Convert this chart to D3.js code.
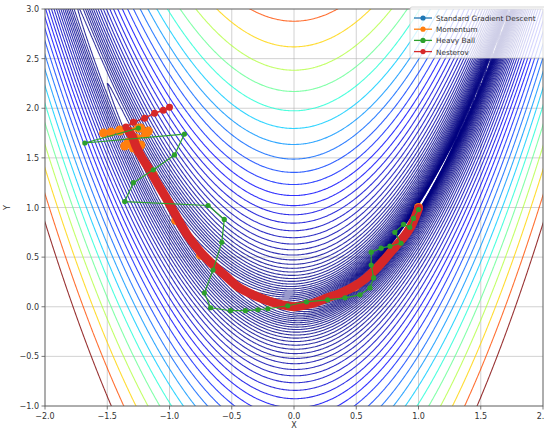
<!DOCTYPE html>
<html>
<head>
<meta charset="utf-8">
<script src="https://cdn.jsdelivr.net/npm/d3@7/dist/d3.min.js"></script>
<style>
  body { margin: 0; background: #fff; }
  svg text { font-family: "DejaVu Sans", sans-serif; }
</style>
</head>
<body>
<svg id="chart" width="544" height="432"></svg>
<script>
// ---- data ----
let xTicks = [-2.0, -1.5, -1.0, -0.5, 0.0, 0.5, 1.0, 1.5, 2.0];
let yTicks = [-1.0, -0.5, 0.0, 0.5, 1.0, 1.5, 2.0, 2.5, 3.0];

// contour levels: logspace(-1, 3, 50)
let levelExpMin = -1, levelExpMax = 3, levelCount = 50;

let seriesNames = ["Standard Gradient Descent", "Momentum", "Heavy Ball", "Nesterov"];
let seriesColors = ["#1f77b4", "#ff7f0e", "#2ca02c", "#d62728"];

let nesterovX = [-1.0, -1.05, -1.12, -1.2, -1.29, -1.35, -1.33, -1.3, -1.27, -1.22, -1.16, -1.1, -1.02, -0.94, -0.85, -0.75, -0.64, -0.55, -0.45, -0.33, -0.21, -0.1, 0.0, 0.14, 0.27, 0.38, 0.49, 0.57, 0.65, 0.73, 0.81, 0.88, 0.94, 1.0];
let nesterovY = [2.01, 1.98, 1.95, 1.9, 1.86, 1.81, 1.77, 1.72, 1.62, 1.5, 1.38, 1.25, 1.08, 0.9, 0.71, 0.55, 0.41, 0.31, 0.2, 0.12, 0.06, 0.02, 0.0, 0.03, 0.09, 0.14, 0.21, 0.28, 0.37, 0.48, 0.6, 0.7, 0.81, 0.99];

let sgdX = [-1.3, -1.25, -1.13, -0.95, -0.75, -0.45, 0.0, 0.49, 0.81, 1.0];
let sgdY = [1.72, 1.56, 1.33, 0.87, 0.52, 0.2, 0.0, 0.2, 0.6, 1.0];

let momentumX = [-1.25, -1.4, -1.47, -1.53, -1.4, -1.23, -1.17, -1.19, -1.27, -1.33, -1.36, -1.29, -1.25, -1.23, -1.25, -1.13, -0.95, -0.75, -0.45, 0.0, 0.49, 0.81, 1.0];
let momentumY = [1.8, 1.78, 1.76, 1.75, 1.77, 1.8, 1.77, 1.74, 1.7, 1.66, 1.62, 1.6, 1.59, 1.63, 1.56, 1.33, 0.87, 0.52, 0.2, 0.0, 0.2, 0.6, 1.0];

let heavyX = [-1.25, -1.68, -0.88, -0.96, -1.13, -1.29, -1.36, -0.69, -0.56, -0.58, -0.65, -0.72, -0.67, -0.51, -0.39, -0.29, -0.21, -0.05, 0.1, 0.27, 0.41, 0.53, 0.61, 0.64, 0.62, 0.62, 0.7, 0.77, 0.86, 0.81, 0.88, 0.93, 0.96, 1.0];
let heavyY = [1.8, 1.65, 1.74, 1.53, 1.38, 1.25, 1.06, 1.02, 0.88, 0.65, 0.37, 0.14, -0.01, -0.04, -0.04, -0.03, -0.02, 0.01, 0.05, 0.07, 0.09, 0.12, 0.19, 0.29, 0.42, 0.55, 0.59, 0.61, 0.64, 0.75, 0.83, 0.8, 0.89, 0.98];

// ---- layout ----
let svg = d3.select("#chart");
let plotLeft = 45, plotRight = 543, plotTop = 9, plotBottom = 406;

let x = d3.scaleLinear().domain([-2, 2]).range([plotLeft, plotRight]);
let y = d3.scaleLinear().domain([-1, 3]).range([plotBottom, plotTop]);

// matplotlib jet
function jet(t) {
  function seg(pts) {
    for (let i = 1; i < pts.length; i++) {
      if (t <= pts[i][0]) {
        let a = pts[i - 1], b = pts[i];
        return a[1] + (b[1] - a[1]) * (t - a[0]) / (b[0] - a[0]);
      }
    }
    return pts[pts.length - 1][1];
  }
  let r = seg([[0, 0], [0.35, 0], [0.66, 1], [0.89, 1], [1, 0.5]]);
  let g = seg([[0, 0], [0.125, 0], [0.375, 1], [0.64, 1], [0.91, 0], [1, 0]]);
  let b = seg([[0, 0.5], [0.11, 1], [0.34, 1], [0.65, 0], [1, 0]]);
  return d3.rgb(r * 255, g * 255, b * 255).toString();
}

svg.append("defs").append("clipPath").attr("id", "plotClip")
  .append("rect").attr("x", plotLeft).attr("y", plotTop)
  .attr("width", plotRight - plotLeft).attr("height", plotBottom - plotTop);

// grid
let grid = svg.append("g").attr("class", "grid");
grid.selectAll("line.gx").data(xTicks).enter().append("line")
  .attr("x1", d => x(d)).attr("x2", d => x(d))
  .attr("y1", plotTop).attr("y2", plotBottom)
  .attr("stroke", "#b0b0b0").attr("stroke-width", 0.8).attr("opacity", 0.7);
grid.selectAll("line.gy").data(yTicks).enter().append("line")
  .attr("y1", d => y(d)).attr("y2", d => y(d))
  .attr("x1", plotLeft).attr("x2", plotRight)
  .attr("stroke", "#b0b0b0").attr("stroke-width", 0.8).attr("opacity", 0.7);

// rosenbrock field on a grid
let n = 420, m = 420;
let gx0 = -2.02, gx1 = 2.02, gy0 = -1.02, gy1 = 3.02;
let dxs = (gx1 - gx0) / (n - 1), dys = (gy1 - gy0) / (m - 1);
let values = new Float64Array(n * m);
for (let j = 0; j < m; j++) {
  let yy = gy0 + j * dys;
  for (let i = 0; i < n; i++) {
    let xx = gx0 + i * dxs;
    values[j * n + i] = (1 - xx) * (1 - xx) + 100 * (yy - xx * xx) * (yy - xx * xx);
  }
}
let levels = d3.range(levelCount).map(k => Math.pow(10, levelExpMin + (levelExpMax - levelExpMin) * k / (levelCount - 1)));
let lmin = levels[0], lmax = levels[levels.length - 1];

let contours = d3.contours().size([n, m]).thresholds(levels)(values);

let proj = d3.geoTransform({
  point: function(cx, cy) {
    this.stream.point(x(gx0 + (cx - 0.5) * dxs), y(gy0 + (cy - 0.5) * dys));
  }
});
let path = d3.geoPath(proj);

svg.append("g").attr("clip-path", "url(#plotClip)")
  .selectAll("path").data(contours).enter().append("path")
  .attr("d", path)
  .attr("fill", "none")
  .attr("stroke", d => jet((d.value - lmin) / (lmax - lmin)))
  .attr("stroke-width", 1.1)
  .attr("stroke-opacity", 0.8);

// optimisation paths
let paths = svg.append("g").attr("clip-path", "url(#plotClip)");
let line = d3.line().x(d => x(d[0])).y(d => y(d[1]));
let smoothLine = d3.line().curve(d3.curveCatmullRom).x(d => x(d[0])).y(d => y(d[1]));

function drawSeries(xs, ys, color, lw, r) {
  let pts = xs.map((v, i) => [v, ys[i]]);
  paths.append("path").attr("d", line(pts))
    .attr("fill", "none").attr("stroke", color).attr("stroke-width", lw)
    .attr("stroke-linejoin", "round").attr("stroke-linecap", "round");
  paths.selectAll(null).data(pts).enter().append("circle")
    .attr("cx", d => x(d[0])).attr("cy", d => y(d[1]))
    .attr("r", r).attr("fill", color);
}

drawSeries(sgdX, sgdY, seriesColors[0], 2, 3);
drawSeries(momentumX, momentumY, seriesColors[1], 2.5, 4.5);
// nesterov: dotted start then thick band along the valley
let nPts = nesterovX.map((v, i) => [v, nesterovY[i]]);
paths.append("path").attr("d", line(nPts.slice(0, 7)))
  .attr("fill", "none").attr("stroke", seriesColors[3]).attr("stroke-width", 1.5);
paths.append("path").attr("d", smoothLine(nPts.slice(6)))
  .attr("fill", "none").attr("stroke", seriesColors[3]).attr("stroke-width", 9)
  .attr("stroke-linejoin", "round").attr("stroke-linecap", "round");
paths.selectAll(null).data(nPts.slice(0, 8)).enter().append("circle")
  .attr("cx", d => x(d[0])).attr("cy", d => y(d[1]))
  .attr("r", 3.5).attr("fill", seriesColors[3]);
drawSeries(heavyX, heavyY, seriesColors[2], 1.2, 2.6);

// axes frame
svg.append("rect").attr("x", plotLeft).attr("y", plotTop)
  .attr("width", plotRight - plotLeft).attr("height", plotBottom - plotTop)
  .attr("fill", "none").attr("stroke", "#555").attr("stroke-width", 0.8);

// ticks
let xa = svg.append("g");
xTicks.forEach(t => {
  xa.append("line").attr("x1", x(t)).attr("x2", x(t)).attr("y1", plotBottom).attr("y2", plotBottom + 3.5)
    .attr("stroke", "#555").attr("stroke-width", 0.8);
  xa.append("text").attr("x", x(t)).attr("y", plotBottom + 13)
    .attr("text-anchor", "middle").attr("font-size", 8).attr("fill", "#333")
    .text(d3.format(".1f")(t).replace("-", "\u2212"));
});
let ya = svg.append("g");
yTicks.forEach(t => {
  ya.append("line").attr("x1", plotLeft - 3.5).attr("x2", plotLeft).attr("y1", y(t)).attr("y2", y(t))
    .attr("stroke", "#555").attr("stroke-width", 0.8);
  ya.append("text").attr("x", plotLeft - 6).attr("y", y(t) + 3)
    .attr("text-anchor", "end").attr("font-size", 8).attr("fill", "#333")
    .text(d3.format(".1f")(t).replace("-", "\u2212"));
});
svg.append("text").attr("x", (plotLeft + plotRight) / 2).attr("y", 428)
  .attr("text-anchor", "middle").attr("font-size", 8).attr("fill", "#333").text("X");
svg.append("text").attr("transform", `translate(10,${(plotTop + plotBottom) / 2}) rotate(-90)`)
  .attr("text-anchor", "middle").attr("font-size", 8).attr("fill", "#333").text("Y");

// legend
let lg = svg.append("g");
lg.append("rect").attr("x", 410).attr("y", 7).attr("width", 140).attr("height", 51)
  .attr("rx", 2).attr("fill", "#fff").attr("fill-opacity", 0.8)
  .attr("stroke", "#ccc").attr("stroke-width", 0.8);
seriesNames.forEach((name, i) => {
  let ly = 18 + i * 11.2;
  lg.append("line").attr("x1", 414).attr("x2", 432).attr("y1", ly).attr("y2", ly)
    .attr("stroke", seriesColors[i]).attr("stroke-width", 1.3);
  lg.append("circle").attr("cx", 423).attr("cy", ly).attr("r", 2.6).attr("fill", seriesColors[i]);
  lg.append("text").attr("x", 436).attr("y", ly + 3).attr("font-size", 7.3).attr("fill", "#333").text(name);
});
</script>
</body>
</html>
